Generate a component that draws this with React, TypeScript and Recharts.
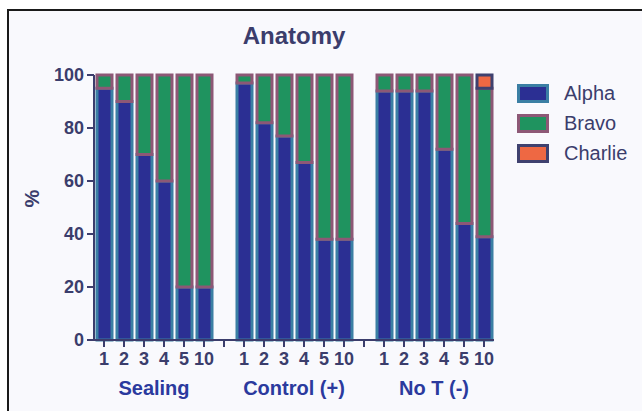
import React from "react";
import { BarChart, Bar, XAxis, YAxis } from "recharts";

// 6 timepoints per group, with an empty slot between groups
const groups = ["Sealing", "Control (+)", "No T (-)"];
const timepoints = ["1", "2", "3", "4", "5", "10"];

const alpha = [
  [95, 90, 70, 60, 20, 20],
  [97, 82, 77, 67, 38, 38],
  [94, 94, 94, 72, 44, 39],
];
const bravo = [
  [5, 10, 30, 40, 80, 80],
  [3, 18, 23, 33, 62, 62],
  [6, 6, 6, 28, 56, 56],
];
const charlie = [
  [0, 0, 0, 0, 0, 0],
  [0, 0, 0, 0, 0, 0],
  [0, 0, 0, 0, 0, 5],
];

const yTicks = [0, 20, 40, 60, 80, 100];

const axisColor = "#3b3d6c";
const series = [
  { key: "Alpha", fill: "#2b2f93", stroke: "#3b7fa4" },
  { key: "Bravo", fill: "#1f935f", stroke: "#8d5876" },
  { key: "Charlie", fill: "#ee6843", stroke: "#3f416f" },
];

type Row = { id: string; label: string; group: string; Alpha: number; Bravo: number; Charlie: number };

const rows: Row[] = [];
groups.forEach((g, gi) => {
  timepoints.forEach((t, ti) => {
    rows.push({
      id: `${gi}-${ti}`,
      label: t,
      group: ti === 2 ? g : "",
      Alpha: alpha[gi][ti],
      Bravo: bravo[gi][ti],
      Charlie: charlie[gi][ti],
    });
  });
  if (gi < groups.length - 1) {
    rows.push({ id: `gap-${gi}`, label: "", group: "", Alpha: 0, Bravo: 0, Charlie: 0 });
  }
});

const font = "'Liberation Sans', Arial, sans-serif";

function XTick(props: any) {
  const { x, y, payload } = props;
  const row = rows[payload.index];
  return (
    <g>
      <text x={x} y={y + 16} textAnchor="middle" fontFamily={font} fontWeight="bold" fontSize={18} fill={axisColor}>
        {row ? row.label : ""}
      </text>
      {row && row.group ? (
        <text x={x + 10} y={y + 46} textAnchor="middle" fontFamily={font} fontWeight="bold" fontSize={20} fill="#2b3a9e">
          {row.group}
        </text>
      ) : null}
    </g>
  );
}

function LegendBox() {
  return (
    <div style={{ position: "absolute", left: 517, top: 78, fontFamily: font }}>
      {series.map((s) => (
        <div key={s.key} style={{ display: "flex", alignItems: "center", height: 30 }}>
          <div
            style={{
              width: 26,
              height: 13,
              background: s.fill,
              border: `3px solid ${s.stroke}`,
              marginRight: 15,
            }}
          />
          <span style={{ fontSize: 20, color: axisColor }}>{s.key}</span>
        </div>
      ))}
    </div>
  );
}

export default function App() {
  return (
    <div style={{ position: "absolute", left: 0, top: 0, width: 642, height: 411, background: "#ffffff" }}>
      <div
        style={{
          position: "absolute",
          left: 7,
          top: 9,
          right: 0,
          bottom: 0,
          background: "#f9f9fd",
          borderTop: "2px solid #1a1a1a",
          borderLeft: "2px solid #1a1a1a",
        }}
      />
      <div
        style={{
          position: "absolute",
          left: 0,
          top: 22,
          width: 588,
          textAlign: "center",
          fontFamily: font,
          fontWeight: "bold",
          fontSize: 24,
          color: axisColor,
        }}
      >
        Anatomy
      </div>
      <div style={{ position: "absolute", left: 0, top: 0 }}>
        <BarChart
          width={642}
          height={411}
          data={rows}
          margin={{ top: 75, right: 148, bottom: 41, left: 0 }}
          barSize={15}
        >
          <XAxis
            dataKey="id"
            interval={0}
            height={30}
            tick={<XTick />}
            tickSize={7}
            stroke={axisColor}
            strokeWidth={2}
            tickLine={{ stroke: axisColor, strokeWidth: 2 }}
          />
          <YAxis
            width={94}
            domain={[0, 100]}
            ticks={yTicks}
            interval={0}
            tickSize={7}
            tickMargin={3}
            stroke={axisColor}
            strokeWidth={2}
            tickLine={{ stroke: axisColor, strokeWidth: 2 }}
            tick={{ fontFamily: font, fontWeight: "bold", fontSize: 18, fill: axisColor }}
            label={{
              value: "%",
              angle: -90,
              position: "insideLeft",
              offset: 32,
              style: { fontFamily: font, fontWeight: "bold", fontSize: 20, fill: axisColor },
            }}
          />
          {series.map((s) => (
            <Bar
              key={s.key}
              dataKey={s.key}
              stackId="a"
              fill={s.fill}
              stroke={s.stroke}
              strokeWidth={3}
              isAnimationActive={false}
            />
          ))}
        </BarChart>
      </div>
      <LegendBox />
    </div>
  );
}
